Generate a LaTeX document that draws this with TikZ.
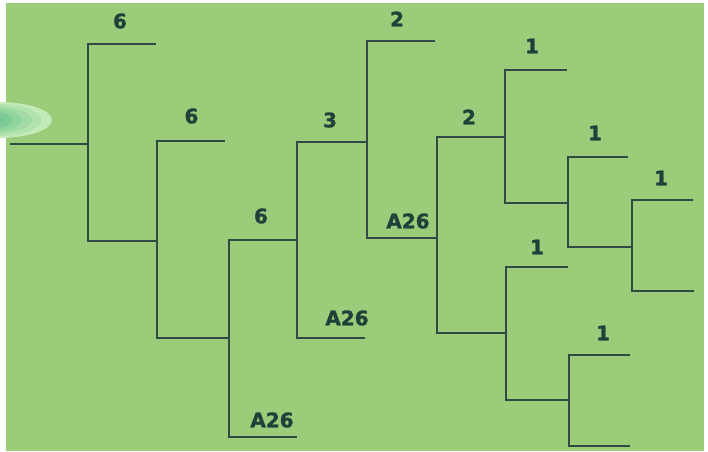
\documentclass[tikz,border=0pt]{standalone}
\usepackage{fontspec}
\setmainfont{DejaVu Sans}
\newfontfamily\lblfont[FakeBold=1.2]{DejaVu Sans Bold}
\definecolor{bg}{RGB}{154,204,122}
\definecolor{ln}{RGB}{50,74,68}
\definecolor{lab}{RGB}{32,64,58}
\definecolor{elo}{RGB}{196,234,184}
\definecolor{eli}{RGB}{74,182,122}
\tikzset{
  br/.style={draw=ln, line width=1.7pt, line cap=butt, line join=miter},
  lbl/.style={inner sep=0pt, text=lab, font=\lblfont\fontsize{20}{20}\selectfont, anchor=center}
}
\begin{document}
\begin{tikzpicture}[x=1pt,y=-1pt]
\useasboundingbox (0,0) rectangle (708,451);
\fill[white] (0,0) rectangle (708,451);
\fill[bg] (6,3) rectangle (704,451);
% glow ellipse
\begin{scope}
\clip (0,0) rectangle (708,451);
\foreach \i in {0,...,7}{
  \pgfmathsetmacro{\f}{1-\i/9}
  \pgfmathsetmacro{\m}{100*\i/7}
  \fill[eli!\m!elo] ({-2-4*\i},120) ellipse [x radius={54*\f}, y radius={18*\f}];
}
\end{scope}
% coordinates
\coordinate (r0) at (10,144);
\coordinate (j1) at (88,144);
% B1
\coordinate (b1t) at (88,44);  \coordinate (b1te) at (156,44);
\coordinate (b1b) at (88,241); \coordinate (b1be) at (157,241);
% B2
\coordinate (b2t) at (157,141); \coordinate (b2te) at (225,141);
\coordinate (b2b) at (157,338); \coordinate (b2be) at (229,338);
% B3
\coordinate (b3t) at (229,240); \coordinate (b3te) at (297,240);
\coordinate (b3b) at (229,437); \coordinate (b3be) at (297,437);
% B4
\coordinate (b4t) at (297,142); \coordinate (b4te) at (367,142);
\coordinate (b4b) at (297,338); \coordinate (b4be) at (365,338);
% B5
\coordinate (b5t) at (367,41);  \coordinate (b5te) at (435,41);
\coordinate (b5b) at (367,238); \coordinate (b5be) at (437,238);
% B6
\coordinate (b6t) at (437,137); \coordinate (b6te) at (505,137);
\coordinate (b6b) at (437,333); \coordinate (b6be) at (506,333);
% B7
\coordinate (b7t) at (505,70);  \coordinate (b7te) at (567,70);
\coordinate (b7b) at (505,203); \coordinate (b7be) at (568,203);
% B8
\coordinate (b8t) at (568,157); \coordinate (b8te) at (628,157);
\coordinate (b8b) at (568,247); \coordinate (b8be) at (632,247);
% B10
\coordinate (b10t) at (632,200); \coordinate (b10te) at (693,200);
\coordinate (b10b) at (632,291); \coordinate (b10be) at (694,291);
% B9
\coordinate (b9t) at (506,267); \coordinate (b9te) at (568,267);
\coordinate (b9b) at (506,400); \coordinate (b9be) at (569,400);
% B11
\coordinate (b11t) at (569,355); \coordinate (b11te) at (630,355);
\coordinate (b11b) at (569,446); \coordinate (b11be) at (630,446);
% draw
\draw[br] (r0) -- (j1);
\foreach \b in {b1,b2,b3,b4,b5,b6,b7,b8,b9,b10,b11}{
  \draw[br] (\b te) -- (\b t) -- (\b b) -- (\b be);
}
% labels
\node[lbl] (l1) at (120,21) {6};
\node[lbl] (l2) at (191.5,116) {6};
\node[lbl] (l3) at (261,216) {6};
\node[lbl] (l4) at (272,420) {A26};
\node[lbl] (l5) at (330,120) {3};
\node[lbl] (l6) at (347,318) {A26};
\node[lbl] (l7) at (397,19) {2};
\node[lbl] (l8) at (408,221) {A26};
\node[lbl] (l9) at (469,117) {2};
\node[lbl] (l10) at (532,46) {1};
\node[lbl] (l11) at (595,133) {1};
\node[lbl] (l12) at (661,178) {1};
\node[lbl] (l13) at (537,247) {1};
\node[lbl] (l14) at (603,333) {1};
\end{tikzpicture}
\end{document}
